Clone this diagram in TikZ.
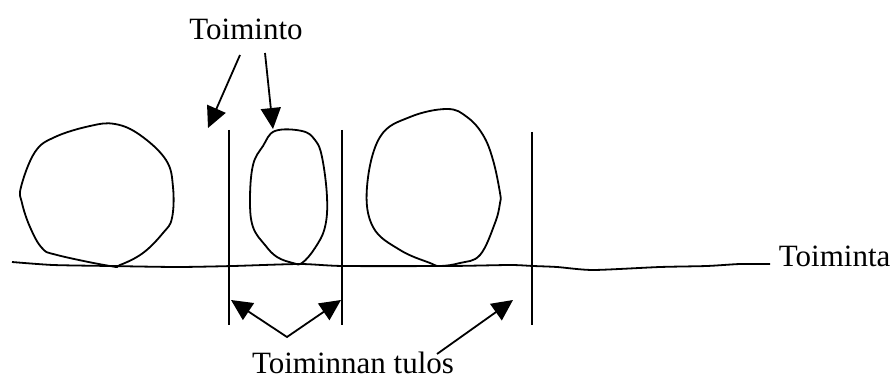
\documentclass[tikz,border=0pt]{standalone}
\usepackage{fontspec}
\setmainfont{Liberation Serif}
\usetikzlibrary{arrows.meta}
\begin{document}
\begin{tikzpicture}
[
    x=0.5pt, y=-0.5pt,
    line width=0.9pt,
    label/.style={font=\fontsize{15.5}{18}\selectfont, inner sep=0pt},
    pointer/.style={-{Triangle[length=10.5pt,width=10pt]}},
    bothpointer/.style={{Triangle[length=10.5pt,width=10pt]}-{Triangle[length=10.5pt,width=10pt]}}
]
    \useasboundingbox (0,0) rectangle (894,379);

    \node [label, anchor=base] (toiminto) at (246,40) {Toiminto};
    \node [label, anchor=base west] (toiminta) at (778,267) {Toiminta};
    \node [label, anchor=base] (tulos) at (353,373) {Toiminnan tulos};

    \draw plot [smooth cycle, tension=0.65] coordinates {
        (115,124) (90,126) (55,137) (35,152) (21,187) (22,203) (30,227)
        (42,248) (57,255) (110,266) (120,265) (143,253) (163,233)
        (172,218) (173,187) (166,160) (140,135)};
    \draw plot [smooth cycle, tension=0.65] coordinates {
        (275,131) (302,131) (315,140) (322,157) (327,197) (325,227)
        (315,248) (302,263) (293,263) (277,257) (265,245) (253,227)
        (250,200) (253,165) (263,146)};
    \draw plot [smooth cycle, tension=0.65] coordinates {
        (447,109) (467,117) (483,135) (493,160) (500,193) (500,203)
        (495,223) (480,255) (460,263) (440,266) (430,263) (400,250)
        (373,227) (367,187) (380,137) (410,117)};

    \coordinate (flowstart) at (12,262);
    \coordinate (flowend) at (770,264);
    \draw plot [smooth, tension=0.4] coordinates {
        (flowstart) (53,265) (110,266) (177,267) (233,266) (300,264)
        (343,266) (450,266) (510,265) (533,266) (557,267) (593,270)
        (660,267) (707,266) (740,264) (flowend)};

    \coordinate (v1top) at (229,130);
    \coordinate (v1bot) at (229,325);
    \coordinate (v2top) at (342,130);
    \coordinate (v2bot) at (342,325);
    \coordinate (v3top) at (532,132);
    \coordinate (v3bot) at (532,325);
    \draw (v1top) -- (v1bot);
    \draw (v2top) -- (v2bot);
    \draw (v3top) -- (v3bot);

    \coordinate (from1) at (240,55);
    \coordinate (tip1) at (208,128);
    \coordinate (from2) at (265,53);
    \coordinate (tip2) at (273,129);
    \draw [pointer] (from1) -- (tip1);
    \draw [pointer] (from2) -- (tip2);

    \coordinate (lefttip) at (231,300);
    \coordinate (joint) at (287,337);
    \coordinate (righttip) at (341,300);
    \coordinate (from3) at (437,354);
    \coordinate (tip3) at (513,300);
    \draw [bothpointer] (lefttip) -- (joint) -- (righttip);
    \draw [pointer] (from3) -- (tip3);
\end{tikzpicture}
\end{document}
